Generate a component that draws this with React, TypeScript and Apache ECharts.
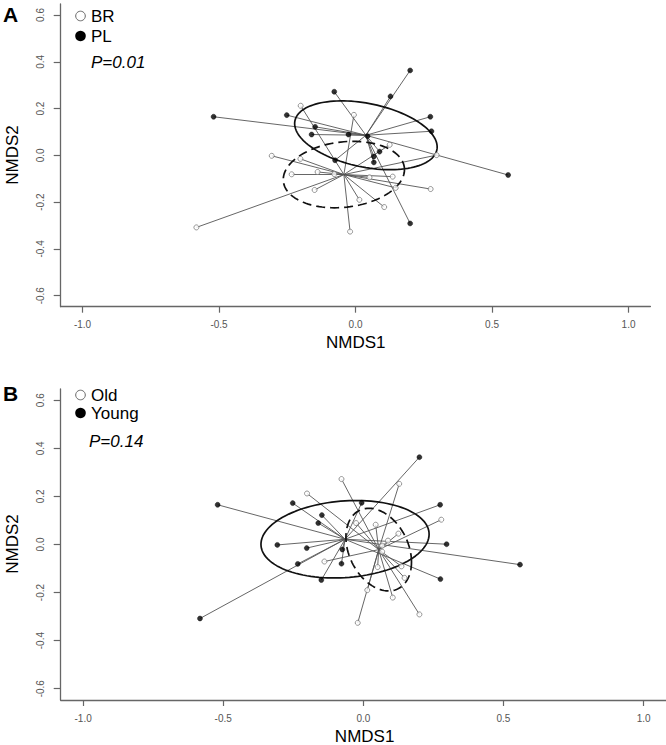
import React, { useEffect, useRef } from "react";
import * as echarts from "echarts";

// NMDS scores of each sample
const sampleX = [
  0.200, 0.128, -0.078, -0.252, -0.520, 0.274, 0.278, -0.148, -0.161, -0.026, 0.088, 0.067, 0.067, -0.075, 0.559, 0.200, 0.044,
  -0.201, -0.006, 0.125, 0.297, -0.307, -0.202, -0.234, -0.139, -0.078, 0.051, 0.136, 0.275, -0.150, 0.014, 0.105, -0.583, -0.020, 0.147,
];
const sampleY = [
  0.363, 0.252, 0.272, 0.172, 0.165, 0.165, 0.103, 0.122, 0.089, 0.089, 0.016, -0.005, -0.030, -0.021, -0.084, -0.291, 0.082,
  0.212, 0.173, 0.045, 0.001, -0.002, -0.015, -0.081, -0.071, -0.080, -0.094, -0.091, -0.144, -0.148, -0.190, -0.221, -0.308, -0.326, -0.139,
];
const siteGroup = [
  "PL", "PL", "PL", "PL", "PL", "PL", "PL", "PL", "PL", "PL", "PL", "PL", "PL", "PL", "PL", "PL", "PL",
  "BR", "BR", "BR", "BR", "BR", "BR", "BR", "BR", "BR", "BR", "BR", "BR", "BR", "BR", "BR", "BR", "BR", "BR",
];
const ageGroup = [
  "Young", "Old", "Old", "Young", "Young", "Young", "Old", "Young", "Young", "Old", "Old", "Old", "Old", "Young", "Young", "Old", "Old",
  "Old", "Young", "Old", "Young", "Young", "Young", "Young", "Old", "Young", "Old", "Old", "Young", "Young", "Old", "Old", "Young", "Old", "Old",
];

// ellipse shape per group: [half-extent x, half-extent y, correlation]
const siteEllipse: Record<string, number[]> = { PL: [0.261, 0.147, -0.34], BR: [0.222, 0.142, 0.15] };
const ageEllipse: Record<string, number[]> = { Young: [0.3, 0.161, 0.13], Old: [0.117, 0.172, -0.3] };

const xTicks = [-1, -0.5, 0, 0.5, 1];
const xTickLabels = ["-1.0", "-0.5", "0.0", "0.5", "1.0"];
const yTicks = [-0.6, -0.4, -0.2, 0, 0.2, 0.4, 0.6];
const yTickLabels = ["-0.6", "-0.4", "-0.2", "0.0", "0.2", "0.4", "0.6"];

const FONT = "'Liberation Sans', Arial, sans-serif";

function tickLabel(ticks: number[], labels: string[]) {
  return (v: number) => {
    const i = ticks.findIndex((t) => Math.abs(t - v) < 1e-6);
    return i >= 0 ? labels[i] : "";
  };
}

function buildPanel(
  gi: number,
  groups: string[],
  openName: string,
  filledName: string,
  shapes: Record<string, number[]>
) {
  const series: any[] = [];
  const styleFor: Record<string, any> = {
    [openName]: { dashed: true, open: true },
    [filledName]: { dashed: false, open: false },
  };
  [openName, filledName].forEach((g) => {
    const idx = sampleX.map((_, i) => i).filter((i) => groups[i] === g);
    const cx = idx.reduce((s, i) => s + sampleX[i], 0) / idx.length;
    const cy = idx.reduce((s, i) => s + sampleY[i], 0) / idx.length;
    series.push({
      type: "lines",
      coordinateSystem: "cartesian2d",
      xAxisIndex: gi,
      yAxisIndex: gi,
      silent: true,
      z: 1,
      lineStyle: { color: "#555", width: 0.9, opacity: 1 },
      data: idx.map((i) => ({ coords: [[cx, cy], [sampleX[i], sampleY[i]]] })),
    });
    const [hx, hy, r] = shapes[g];
    const pts: number[][] = [];
    const n = 120;
    for (let k = 0; k <= n; k++) {
      const t = (2 * Math.PI * k) / n;
      pts.push([cx + hx * Math.cos(t), cy + hy * (r * Math.cos(t) + Math.sqrt(1 - r * r) * Math.sin(t))]);
    }
    series.push({
      type: "line",
      xAxisIndex: gi,
      yAxisIndex: gi,
      data: pts,
      showSymbol: false,
      silent: true,
      z: 2,
      lineStyle: { color: "#111", width: 1.7, type: styleFor[g].dashed ? [9, 5] : "solid" },
    });
    series.push({
      type: "scatter",
      xAxisIndex: gi,
      yAxisIndex: gi,
      z: 3,
      symbol: "circle",
      symbolSize: 5,
      data: idx.map((i) => [sampleX[i], sampleY[i]]),
      itemStyle: styleFor[g].open
        ? { color: "#fff", borderColor: "#7a7a7a", borderWidth: 1 }
        : { color: "#000", borderColor: "#000", borderWidth: 0.5 },
    });
  });
  return series;
}

function axisCommon() {
  return {
    type: "value" as const,
    splitLine: { show: false },
    axisLine: { show: true, onZero: false, lineStyle: { color: "#666", width: 1.3 } },
  };
}

export default function App() {
  const ref = useRef<HTMLDivElement>(null);
  useEffect(() => {
    if (!ref.current) return;
    const chart = echarts.init(ref.current, undefined, { renderer: "svg" });
    const grids = [
      { left: 60.7, top: 4, width: 589.7, height: 302.7 },
      { left: 60.7, top: 388.9, width: 607.6, height: 311.1 },
    ];
    const xAxes = [0, 1].map((gi) => ({
      ...axisCommon(),
      gridIndex: gi,
      min: -1.08,
      max: 1.08,
      axisTick: { show: true, customValues: xTicks, length: 6, lineStyle: { color: "#666", width: 1.2 } },
      axisLabel: {
        customValues: xTicks,
        formatter: tickLabel(xTicks, xTickLabels),
        fontSize: 10,
        color: "#555",
        margin: 13,
        fontFamily: FONT,
      },
    }));
    const yAxes = [0, 1].map((gi) => ({
      ...axisCommon(),
      gridIndex: gi,
      min: -0.647,
      max: 0.647,
      axisTick: { show: true, customValues: yTicks, length: 7, lineStyle: { color: "#666", width: 1.2 } },
      axisLabel: {
        customValues: yTicks,
        formatter: tickLabel(yTicks, yTickLabels),
        fontSize: 10,
        color: "#555",
        margin: 15,
        rotate: 90,
        fontFamily: FONT,
      },
    }));
    const series = [
      ...buildPanel(0, siteGroup, "BR", "PL", siteEllipse),
      ...buildPanel(1, ageGroup, "Old", "Young", ageEllipse),
    ];
    const txt = (x: number, y: number, text: string, extra: any = {}) => ({
      type: "text",
      x,
      y,
      silent: true,
      style: { text, fill: "#000", font: `17px ${FONT}`, textVerticalAlign: "middle", ...extra },
    });
    const graphic: any[] = [
      txt(3, 14, "A", { font: `bold 21px ${FONT}` }),
      txt(3, 393, "B", { font: `bold 21px ${FONT}` }),
      { type: "circle", shape: { cx: 80.5, cy: 16, r: 4.8 }, style: { fill: "#fff", stroke: "#666", lineWidth: 1 } },
      { type: "circle", shape: { cx: 80.5, cy: 36, r: 5.3 }, style: { fill: "#000" } },
      txt(91, 16, "BR"),
      txt(91, 36, "PL"),
      txt(91, 62, "P=0.01", { font: `italic 17px ${FONT}` }),
      { type: "circle", shape: { cx: 80.5, cy: 395, r: 4.8 }, style: { fill: "#fff", stroke: "#666", lineWidth: 1 } },
      { type: "circle", shape: { cx: 80.5, cy: 413, r: 5.3 }, style: { fill: "#000" } },
      txt(91, 395, "Old"),
      txt(91, 413, "Young"),
      txt(89, 441, "P=0.14", { font: `italic 17px ${FONT}` }),
      txt(355.8, 342, "NMDS1", { textAlign: "center" }),
      txt(364.6, 736, "NMDS1", { textAlign: "center" }),
      { ...txt(12, 155, "NMDS2", { textAlign: "center" }), rotation: Math.PI / 2 },
      { ...txt(12, 544, "NMDS2", { textAlign: "center" }), rotation: Math.PI / 2 },
    ];
    chart.setOption({
      animation: false,
      backgroundColor: "#fff",
      grid: grids,
      xAxis: xAxes,
      yAxis: yAxes,
      series,
      graphic,
    });
    return () => chart.dispose();
  }, []);
  return <div ref={ref} style={{ position: "absolute", left: 0, top: 0, width: 666, height: 745 }} />;
}
